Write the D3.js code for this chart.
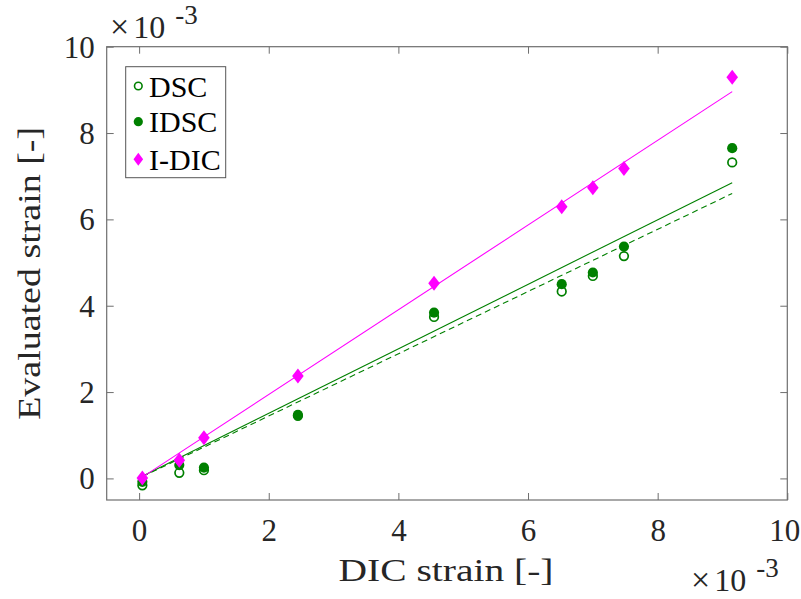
<!DOCTYPE html>
<html><head><meta charset="utf-8">
<script src="https://cdn.jsdelivr.net/npm/d3@7"></script>
<style>body{margin:0;background:#fff;} svg{display:block;}</style>
</head><body>
<svg id="c" width="801" height="599"></svg>
<script>
// Data (strain values in units of 1e-3)
const dicStrain = [0.05, 0.62, 1.0, 2.45, 4.55, 6.52, 7.0, 7.48, 9.15];
const dscValues  = [-0.16, 0.13, 0.19, 1.45, 3.74, 4.33, 4.69, 5.15, 7.32];
const idscValues = [-0.08, 0.31, 0.25, 1.47, 3.84, 4.50, 4.77, 5.37, 7.65];
const idicValues = [0.01, 0.42, 0.94, 2.37, 4.52, 6.29, 6.73, 7.18, 9.29];
// Fitted trend lines (end points)
const fitX     = [0.05, 9.15];
const fitDSC   = [0.04, 6.60];
const fitIDSC  = [0.05, 6.85];
const fitIDIC  = [0.03, 8.96];
const xTicks = [0, 2, 4, 6, 8, 10];
const yTicks = [0, 2, 4, 6, 8, 10];
const legendLabels = ["DSC", "IDSC", "I-DIC"];

const green = "#008000", magenta = "#ff00ff", axisCol = "#6e6e6e", textCol = "#262626";
const font = "\"Liberation Serif\", \"Times New Roman\", serif";
const L = 106.7, R = 787.3, T = 46.7, B = 500;
const svg = d3.select("#c");
const x = d3.scaleLinear().domain([-0.5, 10]).range([L, R]);
const y = d3.scaleLinear().domain([-0.5, 10]).range([B, T]);

// fit lines
const line = d3.line().x(d => x(d[0])).y(d => y(d[1]));
svg.append("path").datum(d3.zip(fitX, fitDSC)).attr("d", line)
  .attr("fill","none").attr("stroke",green).attr("stroke-width",1.1).attr("stroke-dasharray","6,4");
svg.append("path").datum(d3.zip(fitX, fitIDSC)).attr("d", line)
  .attr("fill","none").attr("stroke",green).attr("stroke-width",1.1);
svg.append("path").datum(d3.zip(fitX, fitIDIC)).attr("d", line)
  .attr("fill","none").attr("stroke",magenta).attr("stroke-width",1.1);

// markers
svg.append("g").selectAll("circle").data(d3.zip(dicStrain, dscValues)).join("circle")
  .attr("cx", d => x(d[0])).attr("cy", d => y(d[1])).attr("r", 4.3)
  .attr("fill","none").attr("stroke",green).attr("stroke-width",1.7);
svg.append("g").selectAll("circle").data(d3.zip(dicStrain, idscValues)).join("circle")
  .attr("cx", d => x(d[0])).attr("cy", d => y(d[1])).attr("r", 5.1)
  .attr("fill",green);
const diamond = (cx, cy, w, h) => `M${cx},${cy-h}L${cx+w},${cy}L${cx},${cy+h}L${cx-w},${cy}Z`;
svg.append("g").selectAll("path").data(d3.zip(dicStrain, idicValues)).join("path")
  .attr("d", d => diamond(x(d[0]), y(d[1]), 5.8, 7.5)).attr("fill", magenta);

// axes
const gx = svg.append("g").attr("transform", `translate(0,${B})`)
  .call(d3.axisBottom(x).tickValues(xTicks).tickSize(-7).tickPadding(19).tickFormat(d3.format("d")));
const gxt = svg.append("g").attr("transform", `translate(0,${T})`)
  .call(d3.axisTop(x).tickValues(xTicks).tickSize(-7).tickFormat(""));
const gy = svg.append("g").attr("transform", `translate(${L},0)`)
  .call(d3.axisLeft(y).tickValues(yTicks).tickSize(-7).tickPadding(12).tickFormat(d3.format("d")));
const gyr = svg.append("g").attr("transform", `translate(${R},0)`)
  .call(d3.axisRight(y).tickValues(yTicks).tickSize(-7).tickFormat(""));
[gx, gxt, gy, gyr].forEach(g => {
  g.attr("font-family", null).attr("font-size", null);
  g.select(".domain").remove();
  g.selectAll(".tick line").attr("stroke", axisCol).attr("stroke-width", 1);
  g.selectAll(".tick text").attr("fill", textCol).style("font-family", font).style("font-size", "31px");
});
gx.selectAll(".tick text").attr("dy", "0.71em").attr("dx", d => d === 10 ? -3 : 0);
gy.selectAll(".tick text").attr("dy", "0.34em");
svg.append("rect").attr("x", L).attr("y", T).attr("width", R-L).attr("height", B-T)
  .attr("fill","none").attr("stroke",axisCol).attr("stroke-width",1.2);

// axis labels
svg.append("text").attr("x", (L+R)/2 - 1).attr("y", 581).attr("text-anchor","middle")
  .attr("fill",textCol).style("font-family",font).style("font-size","32px")
  .attr("textLength", 215).attr("lengthAdjust","spacingAndGlyphs").text("DIC strain [-]");
svg.append("text").attr("transform", `translate(40,${(T+B)/2}) rotate(-90)`).attr("text-anchor","middle")
  .attr("fill",textCol).style("font-family",font).style("font-size","32px")
  .attr("textLength", 293).attr("lengthAdjust","spacingAndGlyphs").text("Evaluated strain [-]");

// exponent labels
function expo(xp, yb) {
  const t = svg.append("text").attr("x", xp).attr("y", yb).attr("fill",textCol)
    .style("font-family",font).style("font-size","32px");
  t.append("tspan").style("font-size","34px").text("×");
  t.append("tspan").attr("dx", 4).text("10");
  t.append("tspan").attr("dx", 10).attr("dy", -14).style("font-size","27px").text("-3");
}
expo(110, 38);
expo(691, 591);

// legend
const lg = svg.append("g");
lg.append("rect").attr("x",125.7).attr("y",66.7).attr("width",100).attr("height",111)
  .attr("fill","#fff").attr("stroke","#555").attr("stroke-width",1);
const ly = [86, 121.7, 159.3];
lg.append("circle").attr("cx",138.3).attr("cy",ly[0]).attr("r",3.8).attr("fill","none").attr("stroke",green).attr("stroke-width",1.6);
lg.append("circle").attr("cx",138.3).attr("cy",ly[1]).attr("r",4.6).attr("fill",green);
lg.append("path").attr("d", diamond(138.3, ly[2], 4.8, 6.5)).attr("fill",magenta);
lg.selectAll("text").data(legendLabels).join("text")
  .attr("x",149).attr("y",(d,i)=>ly[i]).attr("dy","0.35em").attr("fill","#000")
  .style("font-family",font).style("font-size","30px").text(d=>d);
</script>
</body></html>
